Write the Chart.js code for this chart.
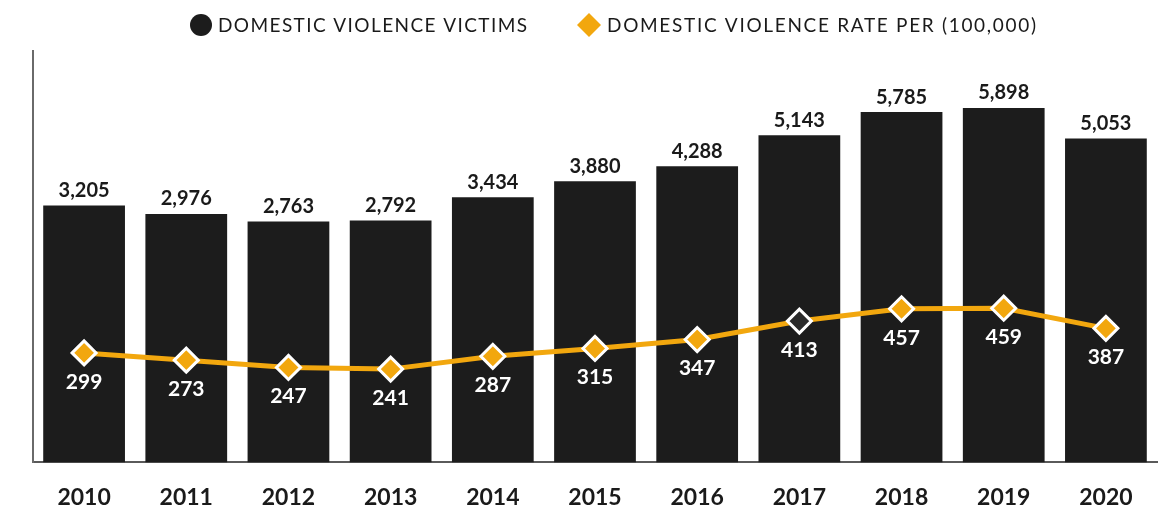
<!DOCTYPE html>
<html>
<head>
<meta charset="utf-8">
<script src="https://cdn.jsdelivr.net/npm/chart.js@4.4.1/dist/chart.umd.min.js"></script>
<style>
  html, body { margin: 0; padding: 0; background: #ffffff; }
  #wrap { width: 1172px; height: 515px; position: relative; }
</style>
</head>
<body>
<div id="wrap"><canvas id="chart" width="1172" height="515"></canvas></div>
<script>
// Yearly domestic violence figures
const years = ['2010', '2011', '2012', '2013', '2014', '2015', '2016', '2017', '2018', '2019', '2020'];
const victims = [3205, 2976, 2763, 2792, 3434, 3880, 4288, 5143, 5785, 5898, 5053];
const ratePer100k = [299, 273, 247, 241, 287, 315, 347, 413, 457, 459, 387];
const seriesNames = ['DOMESTIC VIOLENCE VICTIMS', 'DOMESTIC VIOLENCE RATE PER (100,000)'];

const BAR_COLOR = '#1c1c1c';
const GOLD = '#f2a70e';
const FONT = 'Lato, "Noto Sans", sans-serif';
const BAR_AXIS_MIN = -3880;

// Value labels: counts above bars, rates under the diamonds
const valueLabels = {
  id: 'valueLabels',
  afterDatasetsDraw(chart) {
    const ctx = chart.ctx;
    ctx.save();
    ctx.textAlign = 'center';
    ctx.textBaseline = 'middle';
    ctx.font = '700 20px ' + FONT;
    ctx.fillStyle = '#1a1a1a';
    chart.getDatasetMeta(0).data.forEach((el, i) => {
      ctx.fillText(victims[i].toLocaleString('en-US'), el.x, el.y - 15);
    });
    ctx.font = '700 21px ' + FONT;
    ctx.fillStyle = '#ffffff';
    chart.getDatasetMeta(1).data.forEach((el, i) => {
      ctx.fillText(String(ratePer100k[i]), el.x, el.y + 29);
    });
    ctx.restore();
  }
};

// Single-row legend across the top
const legendRow = {
  id: 'legendRow',
  afterDraw(chart) {
    const ctx = chart.ctx;
    const cy = 25;
    ctx.save();
    ctx.font = '400 19px ' + FONT;
    ctx.textBaseline = 'middle';
    ctx.textAlign = 'left';

    const fitSpacing = (text, target) => {
      ctx.letterSpacing = '0px';
      const w = ctx.measureText(text).width;
      return (target - w) / (text.length - 1);
    };

    // circle marker + first name
    ctx.beginPath();
    ctx.arc(201, cy, 11, 0, Math.PI * 2);
    ctx.fillStyle = BAR_COLOR;
    ctx.fill();
    const w1 = 309;
    ctx.letterSpacing = fitSpacing(seriesNames[0], w1) + 'px';
    ctx.fillStyle = '#1a1a1a';
    const x1 = 218;
    ctx.fillText(seriesNames[0], x1, cy + 1);

    // diamond marker + second name
    const dx = x1 + w1 + 62;
    ctx.beginPath();
    ctx.moveTo(dx, cy - 12);
    ctx.lineTo(dx + 12, cy);
    ctx.lineTo(dx, cy + 12);
    ctx.lineTo(dx - 12, cy);
    ctx.closePath();
    ctx.fillStyle = GOLD;
    ctx.fill();
    ctx.letterSpacing = fitSpacing(seriesNames[1], 429) + 'px';
    ctx.fillStyle = '#1a1a1a';
    ctx.fillText(seriesNames[1], dx + 18, cy + 1);
    ctx.restore();
  }
};

new Chart(document.getElementById('chart'), {
  data: {
    labels: years,
    datasets: [
      {
        type: 'bar',
        label: seriesNames[0],
        data: victims,
        yAxisID: 'y',
        base: BAR_AXIS_MIN,
        backgroundColor: BAR_COLOR,
        barPercentage: 0.8,
        categoryPercentage: 1.0,
        order: 2
      },
      {
        type: 'line',
        label: seriesNames[1],
        data: ratePer100k,
        yAxisID: 'y2',
        borderColor: GOLD,
        borderWidth: 5,
        tension: 0,
        pointStyle: 'rectRot',
        pointRadius: 12,
        pointBorderWidth: 3,
        pointBorderColor: '#ffffff',
        pointBackgroundColor: (c) => (c.dataIndex === 7 ? '#2a2a2a' : GOLD),
        order: 1
      }
    ]
  },
  options: {
    responsive: false,
    animation: false,
    devicePixelRatio: 1,
    layout: { padding: { top: 51, left: 33, right: 5, bottom: -17 } },
    plugins: {
      legend: { display: false },
      tooltip: { enabled: false }
    },
    scales: {
      x: {
        grid: { display: false, drawTicks: false },
        border: { display: true, color: '#5a5a5a', width: 2 },
        ticks: {
          color: '#1a1a1a',
          padding: 21,
          font: { family: FONT, size: 23, weight: '700' }
        }
      },
      y: {
        position: 'left',
        min: BAR_AXIS_MIN,
        max: 7470,
        grid: { display: false, drawTicks: false },
        border: { display: true, color: '#6a6a6a', width: 2 },
        ticks: { display: false }
      },
      y2: {
        position: 'right',
        min: -93,
        max: 1380,
        display: false
      }
    }
  },
  plugins: [valueLabels, legendRow]
});
</script>
</body>
</html>
